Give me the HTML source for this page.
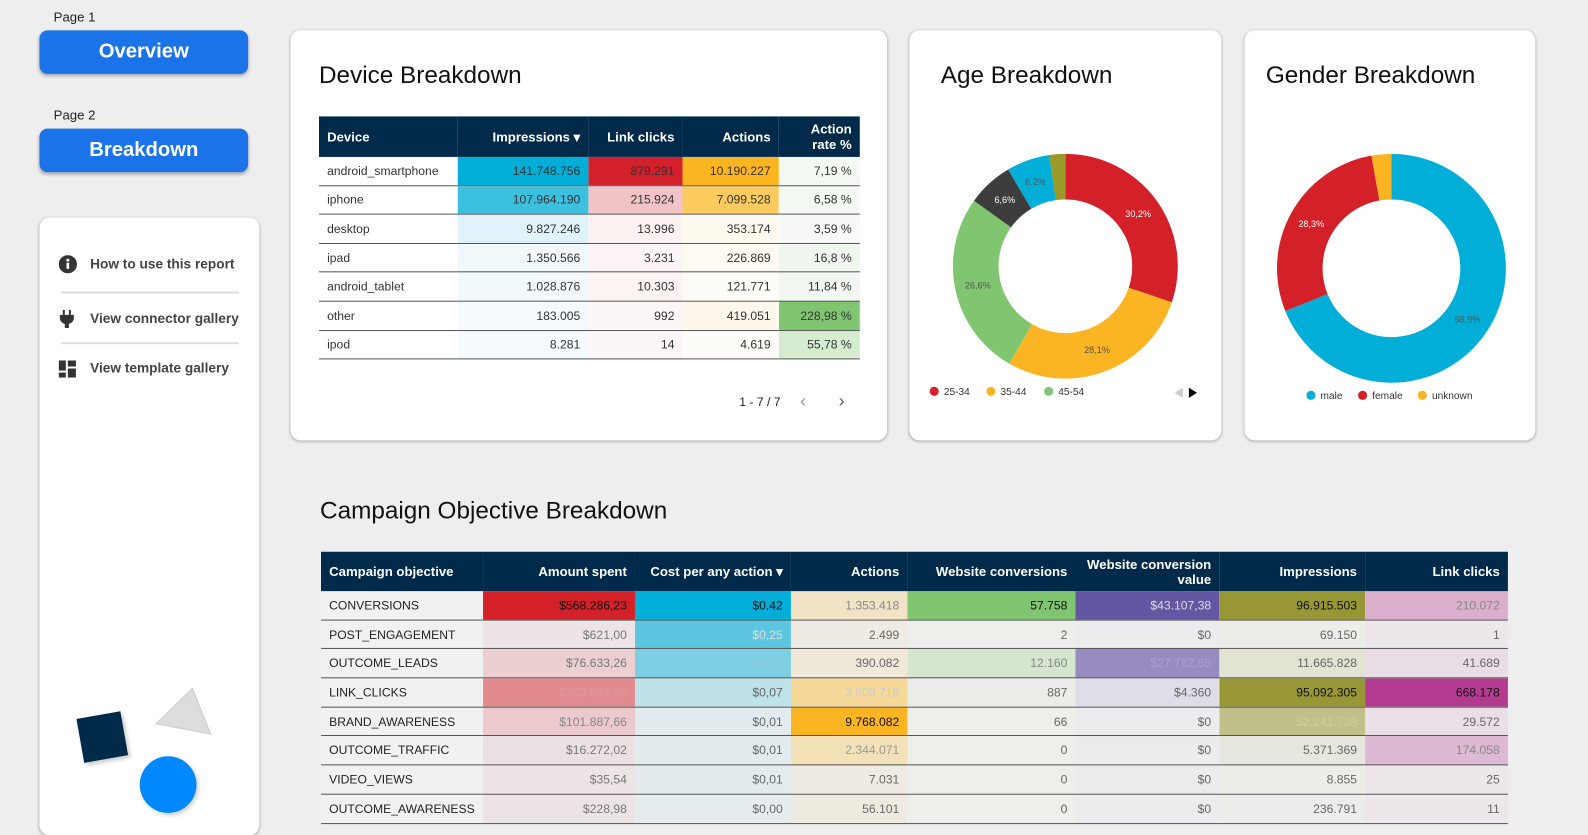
<!DOCTYPE html>
<html><head><meta charset="utf-8">
<style>
html,body{margin:0;padding:0;width:1588px;height:818px;overflow:hidden;background:#eeeeee;font-family:"Liberation Sans",sans-serif;}
#wrap{position:absolute;left:0;top:0;width:1568px;height:808px;transform:scale(1.0127,1.0124);transform-origin:0 0;}
.abs{position:absolute;}
.card{position:absolute;background:#fff;border-radius:10px;box-shadow:0 1px 3px rgba(0,0,0,0.3);}
.btn{position:absolute;left:39px;width:206px;height:43px;background:#1a73e8;border-radius:8px;color:#fff;font-weight:bold;font-size:20px;text-align:center;line-height:43px;box-shadow:0 2px 3px rgba(0,0,0,0.3);}
.plabel{position:absolute;left:53px;font-size:13px;color:#222;}
.item{position:absolute;left:89px;font-size:13.5px;color:#444;font-weight:bold;}
.div{position:absolute;left:60px;width:176px;height:2px;background:#ddd;}
.title{position:absolute;font-size:24px;color:#111;}
table{border-collapse:collapse;position:absolute;table-layout:fixed;font-size:12px;}
th{background:#002a4a;color:#fff;font-weight:bold;font-size:13px;text-align:right;padding:0 8px;line-height:15px;}
td{text-align:right;padding:0 8px;border-bottom:1px solid #555;color:#333;white-space:nowrap;overflow:hidden;}
th:first-child,td:first-child{text-align:left;}
.leg{position:absolute;font-size:10px;color:#333;}
.dot{display:inline-block;width:9px;height:9px;border-radius:50%;vertical-align:-1px;margin-right:5px;}
</style></head>
<body>
<div id="wrap">
<div class="plabel" style="top:9px">Page 1</div>
<div class="btn" style="top:30px">Overview</div>
<div class="plabel" style="top:106px">Page 2</div>
<div class="btn" style="top:127px">Breakdown</div>

<div class="card" style="left:39px;top:215px;width:217px;height:610px">
</div>
<svg class="abs" style="left:58px;top:252px" width="18" height="18"><circle cx="9" cy="9" r="9" fill="#333"/><rect x="7.7" y="7.5" width="2.6" height="6" fill="#fff"/><circle cx="9" cy="5" r="1.5" fill="#fff"/></svg>
<div class="item" style="top:253px">How to use this report</div>
<div class="div" style="top:288px"></div>
<svg class="abs" style="left:59px;top:306px" width="14" height="18"><rect x="3" y="0" width="2" height="5" fill="#333"/><rect x="9" y="0" width="2" height="5" fill="#333"/><path d="M0 5h14v4a7 7 0 0 1-5 5v4h-4v-4a7 7 0 0 1-5-5z" fill="#333"/></svg>
<div class="item" style="top:307px">View connector gallery</div>
<div class="div" style="top:338px"></div>
<svg class="abs" style="left:58px;top:356px" width="17" height="17"><rect x="0" y="0" width="7" height="10" fill="#333"/><rect x="9" y="0" width="8" height="6" fill="#333"/><rect x="0" y="12" width="7" height="5" fill="#333"/><rect x="9" y="8" width="8" height="9" fill="#333"/></svg>
<div class="item" style="top:356px">View template gallery</div>
<div class="abs" style="left:79px;top:706px;width:44px;height:44px;background:#002a4a;transform:rotate(-10deg);box-shadow:2px 3px 4px rgba(0,0,0,0.2)"></div>
<svg class="abs" style="left:150px;top:670px" width="65" height="62"><polygon points="40,10 58,55 4,45" fill="#dddddd" stroke="#c8ccd0" stroke-width="1"/></svg>
<div class="abs" style="left:138px;top:747px;width:56px;height:56px;border-radius:50%;background:#0088ff;box-shadow:2px 2px 4px rgba(0,0,0,0.2)"></div>

<div class="card" style="left:287px;top:30px;width:589px;height:405px"></div>
<div class="title" style="left:315px;top:61px">Device Breakdown</div>
<table id="devtab" style="left:315px;top:115px;width:534px"></table>
<div class="abs" style="left:730px;top:390px;font-size:12px;color:#222">1 - 7 / 7</div>
<div class="abs" style="left:790px;top:386px;font-size:18px;color:#999">&#8249;</div>
<div class="abs" style="left:828px;top:386px;font-size:18px;color:#666">&#8250;</div>

<div class="card" style="left:898px;top:30px;width:308px;height:405px"></div>
<div class="title" style="left:929px;top:61px">Age Breakdown</div>
<svg id="agesvg" class="abs" style="left:898px;top:100px" width="308" height="320"></svg>
<div class="leg" style="left:918px;top:382px"><span class="dot" style="background:#d32029"></span>25-34</div>
<div class="leg" style="left:974px;top:382px"><span class="dot" style="background:#fbb522"></span>35-44</div>
<div class="leg" style="left:1031px;top:382px"><span class="dot" style="background:#80c56f"></span>45-54</div>
<svg class="abs" style="left:1159px;top:382px" width="26" height="12"><polygon points="9,1 9,11 1,6" fill="#ccc"/><polygon points="15,1 15,11 23,6" fill="#000"/></svg>

<div class="card" style="left:1229px;top:30px;width:287px;height:405px"></div>
<div class="title" style="left:1250px;top:61px">Gender Breakdown</div>
<svg id="gensvg" class="abs" style="left:1229px;top:100px" width="287" height="320"></svg>
<div class="leg" style="left:1290px;top:386px"><span class="dot" style="background:#00aed8"></span>male</div>
<div class="leg" style="left:1341px;top:386px"><span class="dot" style="background:#d32029"></span>female</div>
<div class="leg" style="left:1400px;top:386px"><span class="dot" style="background:#fbb522"></span>unknown</div>

<div class="title" style="left:316px;top:491px">Campaign Objective Breakdown</div>
<table id="camptab" style="left:317px;top:545px;width:1172px"></table>
</div>

<script>
// ---- Device table data ----
const devHeaders = ["Device","Impressions \u25BE","Link clicks","Actions","Action rate %"];
const devWidths = [137,129,93,95,80];
const devRows = [
 ["android_smartphone","141.748.756","879.291","10.190.227","7,19 %"],
 ["iphone","107.964.190","215.924","7.099.528","6,58 %"],
 ["desktop","9.827.246","13.996","353.174","3,59 %"],
 ["ipad","1.350.566","3.231","226.869","16,8 %"],
 ["android_tablet","1.028.876","10.303","121.771","11,84 %"],
 ["other","183.005","992","419.051","228,98 %"],
 ["ipod","8.281","14","4.619","55,78 %"]];
const devColors = [
 ["#fff","#00aed8","#d3202a","#fbb521","#f4f8f3"],
 ["#fff","#3bc0e0","#f1c3c6","#fccb5e","#f4f8f3"],
 ["#fff","#e1f3fa","#fcf2f2","#fefaf0","#f6f9f5"],
 ["#fff","#f0f8fc","#fdf5f5","#fefbf3","#eff6ed"],
 ["#fff","#f2f9fc","#fcf3f3","#fefcf7","#f2f7f1"],
 ["#fff","#f4fafd","#fdf6f6","#fef8ec","#80c56f"],
 ["#fff","#f4fafd","#fdf6f6","#fefcf8","#d6ecd1"]];

// ---- Campaign table data ----
const campHeaders = ["Campaign objective","Amount spent","Cost per any action \u25BE","Actions","Website conversions","Website conversion value","Impressions","Link clicks"];
const campWidths = [160,150,154,115,166,142,144,141];
const campRows = [
 ["CONVERSIONS","$568.286,23","$0,42","1.353.418","57.758","$43.107,38","96.915.503","210.072"],
 ["POST_ENGAGEMENT","$621,00","$0,25","2.499","2","$0","69.150","1"],
 ["OUTCOME_LEADS","$76.633,26","$0,20","390.082","12.160","$27.782,65","11.665.828","41.689"],
 ["LINK_CLICKS","$263.824,33","$0,07","3.809.718","887","$4.360","95.092.305","668.178"],
 ["BRAND_AWARENESS","$101.887,66","$0,01","9.768.082","66","$0","52.241.738","29.572"],
 ["OUTCOME_TRAFFIC","$16.272,02","$0,01","2.344.071","0","$0","5.371.369","174.058"],
 ["VIDEO_VIEWS","$35,54","$0,01","7.031","0","$0","8.855","25"],
 ["OUTCOME_AWARENESS","$228,98","$0,00","56.101","0","$0","236.791","11"]];
const campColors = [
 ["#f1f1f1","#d32029","#00aed8","#f1e4c6","#80c56f","#6556a4","#979736","#dbafcc"],
 ["#f1f1f1","#ece4e5","#5cc6e0","#efebe2","#ecefea","#ececee","#eeeee8","#ede7eb"],
 ["#f1f1f1","#eccfd1","#7dcfe3","#f0e8d8","#d4e6cd","#978bc0","#e3e3d4","#eadee6"],
 ["#f1f1f1","#e28b8f","#bee2ea","#f6d898","#eaede8","#dedde8","#979736","#b33b8f"],
 ["#f1f1f1","#ebc9cc","#e2ebee","#fbb522","#ecefea","#ececee","#c0c088","#ebdfe7"],
 ["#f1f1f1","#ece1e2","#e2ebee","#f3e2b7","#ecefea","#ececee","#e7e7df","#ddb9d3"],
 ["#f1f1f1","#ece4e5","#e2ebee","#efebe2","#ecefea","#ececee","#eeeee8","#ede7eb"],
 ["#f1f1f1","#ece3e4","#e5ecee","#efeae0","#ecefea","#ececee","#ececea","#ede6ea"]];
const campText = [
 ["#222","#111","#111","#888","#111","#ddd","#111","#888"],
 ["#222","#777","#ddd","#666","#666","#666","#666","#666"],
 ["#222","#777","#8ccadb","#666","#888","#a99fd0","#666","#666"],
 ["#222","#d99","#666","#ccc","#666","#666","#111","#111"],
 ["#222","#888","#666","#111","#666","#666","#cfcf9a","#666"],
 ["#222","#777","#666","#999","#666","#666","#666","#888"],
 ["#222","#777","#666","#666","#666","#666","#666","#666"],
 ["#222","#777","#666","#666","#666","#666","#666","#666"]];

// ---- Donut data ----
const ageLabels = ["25-34","35-44","45-54","55-64","18-24","65+"];
const ageValues = [30.2,28.1,26.6,6.6,6.2,2.3];
const ageColors = ["#d32029","#fbb522","#80c56f","#3d3d3d","#00aed8","#999a29"];
const ageTextColors = ["#fff","#555","#555","#fff","#555",""];
const genderLabels = ["male","female","unknown"];
const genderValues = [68.9,28.3,2.8];
const genderColors = ["#00aed8","#d32029","#fbb522"];
const genderTextColors = ["#555","#fff",""];

function buildTable(id, headers, widths, rows, colors, textColors, headH, rowH){
  const t = document.getElementById(id);
  const cg = document.createElement('colgroup');
  widths.forEach(w=>{const c=document.createElement('col');c.style.width=w+'px';cg.appendChild(c);});
  t.appendChild(cg);
  const hr = document.createElement('tr');
  
  
  headers.forEach((h,i)=>{
    const th=document.createElement('th');
    th.textContent=h; th.style.height=headH+'px';
    
    
    hr.appendChild(th);
  });
  t.appendChild(hr);
  rows.forEach((r,ri)=>{
    const tr=document.createElement('tr');
    
    
    r.forEach((v,ci)=>{
      const td=document.createElement('td');
      td.textContent=v; td.style.height=(rowH-1)+'px';
      td.style.background=colors[ri][ci];
      if(textColors) td.style.color=textColors[ri][ci];
      
      
      tr.appendChild(td);
    });
    t.appendChild(tr);
  });
}
buildTable('devtab',devHeaders,devWidths,devRows,devColors,null,40,28.6);
document.querySelector('#devtab th:last-child').innerHTML='Action<br>rate %';
buildTable('camptab',campHeaders,campWidths,campRows,campColors,campText,39,28.7);
document.querySelector('#camptab th:nth-child(6)').innerHTML='Website conversion<br>value';

const NS='http://www.w3.org/2000/svg';
function donut(svgId, labels, values, colors, tcolors, cx, cy, ro, ri){
  const svg=document.getElementById(svgId);
  const total=values.reduce((a,b)=>a+b,0);
  let a0=-Math.PI/2;
  values.forEach((v,i)=>{
    const a1=a0+v/total*2*Math.PI;
    const large=(a1-a0)>Math.PI?1:0;
    const p=(r,a)=>(cx+r*Math.cos(a)).toFixed(2)+' '+(cy+r*Math.sin(a)).toFixed(2);
    const path=document.createElementNS(NS,'path');
    path.setAttribute('d','M'+p(ro,a0)+' A'+ro+' '+ro+' 0 '+large+' 1 '+p(ro,a1)+' L'+p(ri,a1)+' A'+ri+' '+ri+' 0 '+large+' 0 '+p(ri,a0)+' Z');
    path.setAttribute('fill',colors[i]);
    
    
    svg.appendChild(path);
    if(tcolors[i]){
      const am=(a0+a1)/2, rm=(ro+ri)/2;
      const tx=document.createElementNS(NS,'text');
      tx.setAttribute('x',cx+rm*Math.cos(am));
      tx.setAttribute('y',cy+rm*Math.sin(am)+3);
      tx.setAttribute('text-anchor','middle');
      tx.setAttribute('font-size','9');
      tx.setAttribute('font-family','Liberation Sans, sans-serif');
      tx.setAttribute('fill',tcolors[i]);
      tx.textContent=v.toFixed(1).replace('.',',')+'%';
      
      
      svg.appendChild(tx);
    }
    a0=a1;
  });
}
donut('agesvg',ageLabels,ageValues,ageColors,ageTextColors,154,163,111,66);
donut('gensvg',genderLabels,genderValues,genderColors,genderTextColors,145,165,113,68);
</script>
</body></html>
